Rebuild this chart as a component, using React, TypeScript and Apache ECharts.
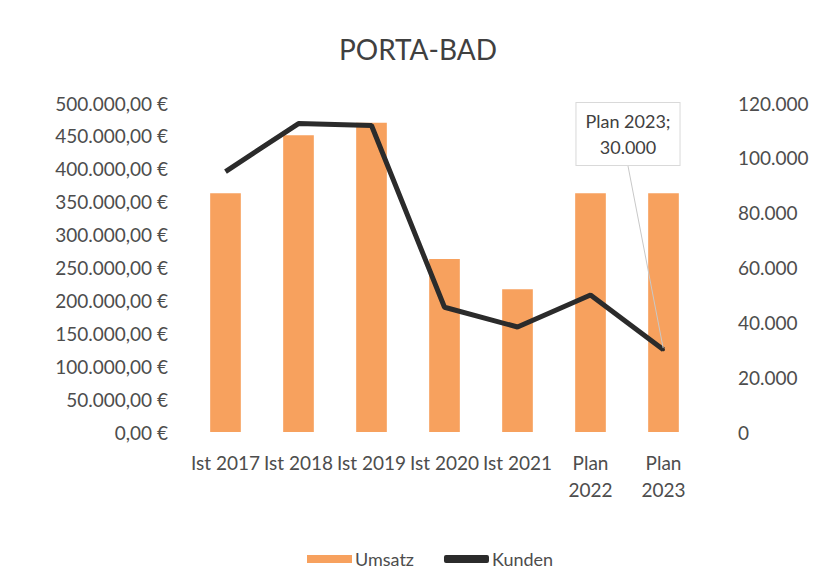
import React, { useEffect, useRef } from "react";
import * as echarts from "echarts";

const categories = ["Ist 2017", "Ist 2018", "Ist 2019", "Ist 2020", "Ist 2021", "Plan\n2022", "Plan\n2023"];
const umsatz = [363000, 451000, 470000, 263000, 217000, 363000, 363000];
const kunden = [95000, 112500, 111800, 45500, 38300, 50000, 30000];
const title = "PORTA-BAD";
const seriesNames = ["Umsatz", "Kunden"];
const calloutText = "Plan 2023;\n30.000";

const FONT = "Lato, 'Open Sans', sans-serif";
const TEXT = "#4d4d4d";

function thousands(n: number): string {
  const s = Math.round(Math.abs(n)).toString();
  return s.replace(/\B(?=(\d{3})+(?!\d))/g, ".");
}

export default function App() {
  const ref = useRef<HTMLDivElement>(null);
  useEffect(() => {
    document.body.style.margin = "0";
    const chart = echarts.init(ref.current!, null, { renderer: "svg" });
    const lastIndex = kunden.length - 1;
    const lineData = kunden.map((v, i) =>
      i === lastIndex
        ? {
            value: v,
            symbol: "circle",
            symbolSize: 3,
            label: {
              show: true,
              formatter: calloutText,
              position: "top",
              color: "#404040",
              fontFamily: FONT,
              fontSize: 18,
              lineHeight: 26,
              backgroundColor: "#ffffff",
              borderColor: "#d9d9d9",
              borderWidth: 1,
              padding: [5, 9, 5, 9],
            },
            labelLine: { show: true, lineStyle: { color: "#c8c8c8", width: 1 } },
          }
        : v
    );
    chart.setOption({
      animation: false,
      backgroundColor: "#ffffff",
      title: {
        text: title,
        left: "center",
        top: 30,
        textStyle: { fontFamily: FONT, fontSize: 28, fontWeight: "normal", color: "#404040" },
      },
      legend: {
        bottom: 14,
        left: 302,
        itemWidth: 45,
        itemHeight: 8,
        itemGap: 30,
        textStyle: { fontFamily: FONT, fontSize: 18, color: TEXT, padding: [0, 0, 0, -2] },
        data: [
          { name: seriesNames[0], icon: "rect" },
          { name: seriesNames[1], icon: "roundRect", itemStyle: { color: "#2b2b2b" } },
        ],
      },
      grid: { left: 189, right: 136, top: 103, bottom: 155, containLabel: false },
      xAxis: {
        type: "category",
        data: categories,
        axisLine: { show: false },
        axisTick: { show: false },
        axisLabel: {
          margin: 17,
          fontFamily: FONT,
          fontSize: 19,
          lineHeight: 27,
          color: TEXT,
          interval: 0,
        },
      },
      yAxis: [
        {
          type: "value",
          min: 0,
          max: 500000,
          interval: 50000,
          splitLine: { show: false },
          axisLine: { show: false },
          axisTick: { show: false },
          axisLabel: {
            margin: 21,
            fontFamily: FONT,
            fontSize: 19,
            color: TEXT,
            formatter: (v: number) => thousands(v) + ",00 €",
          },
        },
        {
          type: "value",
          min: 0,
          max: 120000,
          interval: 20000,
          splitLine: { show: false },
          axisLine: { show: false },
          axisTick: { show: false },
          axisLabel: {
            margin: 38,
            fontFamily: FONT,
            fontSize: 19,
            color: TEXT,
            formatter: (v: number) => thousands(v),
          },
        },
      ],
      series: [
        {
          name: seriesNames[0],
          type: "bar",
          data: umsatz,
          barWidth: "42%",
          itemStyle: { color: "#F7A15E" },
          yAxisIndex: 0,
        },
        {
          name: seriesNames[1],
          type: "line",
          yAxisIndex: 1,
          data: lineData,
          symbol: "none",
          itemStyle: { color: "#2b2b2b" },
          lineStyle: { color: "#2b2b2b", width: 5 },
          labelLayout: (params: any) =>
            params.dataIndex === lastIndex
              ? { x: 628, y: 134, align: "center", verticalAlign: "middle" }
              : {},
          z: 3,
        },
      ],
    });
    return () => chart.dispose();
  }, []);
  return <div ref={ref} style={{ width: 836, height: 587 }} />;
}
